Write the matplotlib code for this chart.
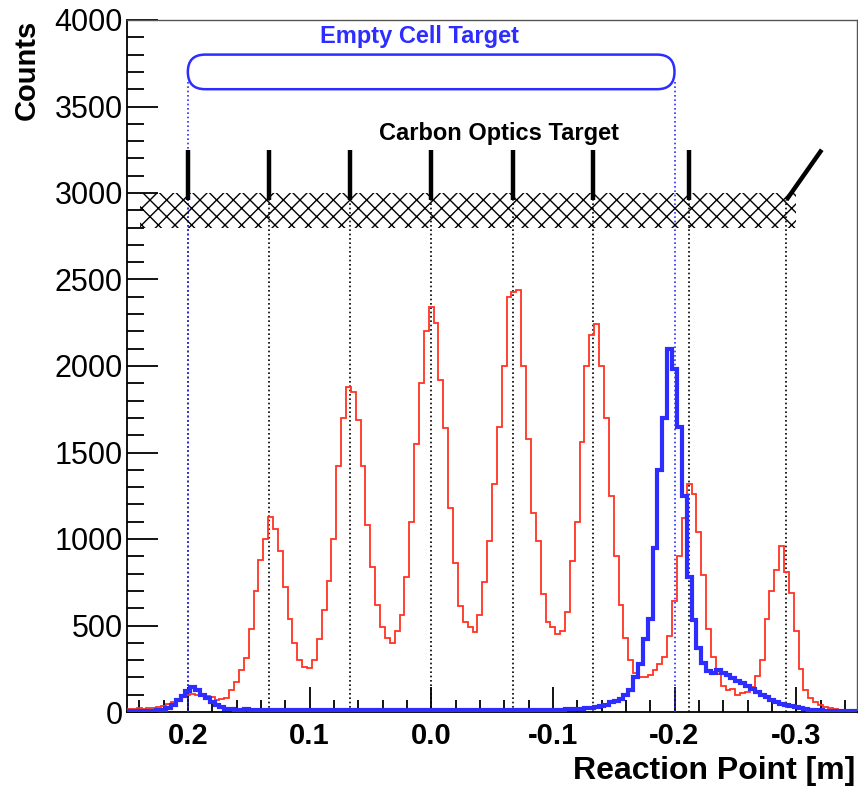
import numpy as np
import matplotlib
matplotlib.use("Agg")
import matplotlib.pyplot as plt
from matplotlib.patches import FancyBboxPatch, Rectangle
from matplotlib.ticker import MultipleLocator

# ---- data (bins of 0.004 m, from +0.25 down to -0.35) ----
x_hi, x_lo, bin_w = 0.25, -0.35, 0.004

carbon_counts = [
    15, 18, 22, 20, 25, 22, 28, 35, 45, 55,
    72, 90, 100, 104, 100, 98, 95, 85, 72, 78,
    82, 130, 175, 240, 310, 480, 700, 880, 1000, 1130,
    1060, 930, 720, 540, 400, 300, 262, 255, 300, 420,
    590, 760, 1000, 1420, 1700, 1880, 1850, 1690, 1420, 1080,
    840, 620, 490, 430, 400, 470, 560, 780, 1100, 1550,
    1900, 2200, 2340, 2250, 1920, 1640, 1180, 860, 610, 520,
    490, 465, 560, 750, 990, 1320, 1650, 2000, 2400, 2430,
    2440, 2000, 1580, 1150, 990, 680, 520, 490, 450, 470,
    580, 870, 1100, 1560, 2000, 2180, 2240, 2000, 1700, 1250,
    900, 620, 430, 300, 228, 205, 200, 214, 245, 275,
    320, 440, 640, 900, 1120, 1320, 1260, 1040, 790, 480,
    320, 220, 150, 130, 135, 100, 110, 116, 145, 210,
    300, 540, 700, 820, 960, 810, 690, 470, 250, 125,
    80, 55, 40, 30, 22, 17, 14, 12, 10, 8,
]

empty_counts = [
    5, 6, 5, 7, 6, 8, 9, 12, 25, 40,
    70, 95, 120, 145, 125, 100, 82, 60, 40, 28,
    18, 15, 14, 13, 15, 12, 14, 13, 12, 14,
    13, 12, 13, 14, 12, 11, 13, 12, 14, 12,
    11, 13, 12, 11, 12, 13, 11, 12, 12, 11,
    13, 12, 11, 12, 13, 12, 11, 12, 14, 13,
    12, 11, 13, 12, 12, 11, 12, 13, 11, 12,
    12, 13, 11, 12, 13, 12, 11, 12, 12, 13,
    12, 11, 12, 13, 12, 12, 11, 12, 12, 14,
    15, 16, 17, 19, 22, 25, 28, 33, 42, 55,
    65, 75, 98, 130, 200, 280, 420, 540, 950, 1400,
    1700, 2100, 1980, 1650, 1250, 780, 530, 370, 285, 235,
    228, 240, 225, 212, 198, 180, 168, 152, 135, 115,
    98, 85, 70, 56, 46, 38, 32, 28, 22, 18,
    14, 11, 9, 8, 7, 6, 6, 5, 5, 4,
]

# target geometry
carbon_foils = [0.200, 0.133, 0.067, 0.000, -0.067, -0.133, -0.212]
tilted_foil = (-0.292, -0.321)
empty_cell_ends = [0.200, -0.200]
foil_bottom, foil_top = 2960, 3250
band_x = (0.239, -0.300)
band_y = (2800, 3000)
cell_y = (3600, 3800)

xtick_vals = [0.2, 0.1, 0.0, -0.1, -0.2, -0.3]
xtick_labels = ["0.2", "0.1", "0.0", "-0.1", "-0.2", "-0.3"]
ytick_vals = [0, 500, 1000, 1500, 2000, 2500, 3000, 3500, 4000]

RED = "#ff3322"
BLUE = "#2d2dff"

plt.rcParams["font.family"] = ["Liberation Sans", "DejaVu Sans"]

fig = plt.figure(figsize=(8.58, 7.86), dpi=100)
ax = fig.add_axes([127 / 858, 74 / 786, 730 / 858, 692 / 786])

edges = x_hi - bin_w * np.arange(len(carbon_counts) + 1)
ax.stairs(carbon_counts[::-1], edges[::-1], color=RED, lw=1.3, zorder=4)
ax.stairs(empty_counts[::-1], edges[::-1], color=BLUE, lw=3.0, zorder=5)

# dotted guide lines
dot = (0, (1, 1.6))
for xf in carbon_foils:
    ax.plot([xf, xf], [0, foil_bottom], color="black", lw=1.2, ls=dot, zorder=2)
ax.plot([tilted_foil[0]] * 2, [0, foil_bottom], color="black", lw=1.2, ls=dot, zorder=2)
for xe in empty_cell_ends:
    ax.plot([xe, xe], [0, 3650], color=BLUE, lw=1.2, ls=dot, zorder=3)

# hatched band for the carbon optics target
band = Rectangle((band_x[1], band_y[0]), band_x[0] - band_x[1], band_y[1] - band_y[0],
                 facecolor="none", edgecolor="black", lw=0, hatch="xx", zorder=3)
ax.add_patch(band)

# foils
for xf in carbon_foils:
    ax.plot([xf, xf], [foil_bottom, foil_top], color="black", lw=3.2,
            solid_capstyle="butt", zorder=6)
ax.plot(tilted_foil, [foil_bottom, foil_top], color="black", lw=3.2,
        solid_capstyle="butt", zorder=6)

# empty cell outline
aspect = (1 / 0.173) / (1 / 1218)
cell = FancyBboxPatch((empty_cell_ends[1], cell_y[0]),
                      empty_cell_ends[0] - empty_cell_ends[1], cell_y[1] - cell_y[0],
                      boxstyle="round,pad=0,rounding_size=0.0142",
                      mutation_aspect=aspect, facecolor="none",
                      edgecolor=BLUE, lw=1.8, zorder=6)
ax.add_patch(cell)

ax.text(0.01, 3905, "Empty Cell Target", color=BLUE, fontsize=17,
        fontweight="bold", ha="center", va="center")
ax.text(-0.056, 3345, "Carbon Optics Target", color="black", fontsize=17,
        fontweight="bold", ha="center", va="center")

ax.set_xlim(x_hi, x_lo)
ax.set_ylim(0, 4000)

ax.set_xticks(xtick_vals)
ax.set_xticklabels(xtick_labels, fontsize=21, fontweight="bold")
ax.xaxis.set_minor_locator(MultipleLocator(0.02))
ax.set_yticks(ytick_vals)
ax.set_yticklabels([str(v) for v in ytick_vals], fontsize=22)
ax.yaxis.set_minor_locator(MultipleLocator(100))

ax.tick_params(axis="x", which="major", direction="in", length=18, width=1.3, pad=7,
               top=False)
ax.tick_params(axis="x", which="minor", direction="in", length=9, width=1.3, top=False)
ax.tick_params(axis="y", which="major", direction="in", length=22, width=1.3, pad=3,
               right=False)
ax.tick_params(axis="y", which="minor", direction="in", length=12, width=1.3, right=False)

for side in ["left", "bottom"]:
    ax.spines[side].set_linewidth(1.3)
for side in ["top", "right"]:
    ax.spines[side].set_linewidth(1.0)
    ax.spines[side].set_color("#555555")

fig.text(855 / 858, 1 - 771 / 786, "Reaction Point [m]", fontsize=23,
         fontweight="bold", ha="right", va="center")
fig.text(27 / 858, 1 - 20 / 786, "Counts", fontsize=21, fontweight="bold",
         rotation=90, ha="center", va="top")

fig.savefig("out.png", dpi=100)
